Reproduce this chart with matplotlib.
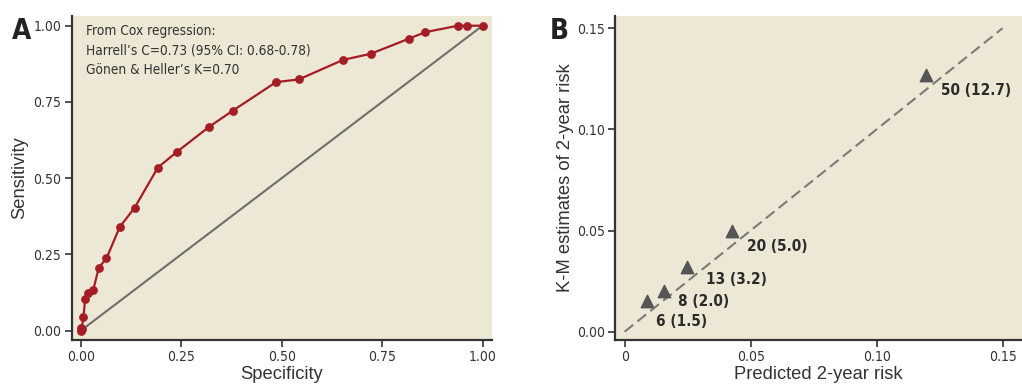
import matplotlib.pyplot as plt
from matplotlib import font_manager
from matplotlib.font_manager import FontProperties

# look for a condensed face (ticks and notes in the reference are condensed)
files = [f.fname for f in font_manager.fontManager.ttflist]
reg = [p for p in files if ("SansCondensed" in p or "SansNarrow" in p) and "Bold" not in p and "Oblique" not in p and "Italic" not in p]
bld = [p for p in files if ("SansCondensed-Bold" in p or "SansNarrow-Bold" in p) and "Oblique" not in p and "Italic" not in p]
if reg and bld:
    fp_reg = FontProperties(fname=sorted(reg)[0])
    fp_bold = FontProperties(fname=sorted(bld)[0])
    scale = 1.0
else:
    fp_reg = FontProperties(family="Liberation Sans")
    fp_bold = FontProperties(family="Liberation Sans", weight="bold")
    scale = 0.88
plt.rcParams["font.family"] = ["Liberation Sans", "DejaVu Sans"]

# --- Panel A: ROC curve ---
specificity = [0.0, 0.0, 0.002, 0.0066, 0.011, 0.017, 0.031, 0.045, 0.064, 0.097,
               0.134, 0.192, 0.240, 0.320, 0.378, 0.486, 0.543, 0.653, 0.722,
               0.816, 0.858, 0.939, 0.961, 1.0]
sensitivity = [0.0, 0.008, 0.004, 0.044, 0.103, 0.122, 0.133, 0.207, 0.237, 0.340,
               0.403, 0.535, 0.587, 0.669, 0.721, 0.815, 0.824, 0.888, 0.908,
               0.957, 0.979, 1.0, 1.0, 1.0]
roc_ticks = [0.0, 0.25, 0.5, 0.75, 1.0]
roc_labels = ["0.00", "0.25", "0.50", "0.75", "1.00"]

# --- Panel B: calibration ---
predicted = [0.0087, 0.0155, 0.0249, 0.0427, 0.1197]
km_est = [0.015, 0.020, 0.032, 0.050, 0.127]
point_labels = ["6 (1.5)", "8 (2.0)", "13 (3.2)", "20 (5.0)", "50 (12.7)"]
label_offsets = [(9, -20), (14, -10), (19, -13), (15, -16), (15, -16)]
cal_ticks = [0.0, 0.05, 0.10, 0.15]
cal_xlabels = ["0", "0.05", "0.10", "0.15"]
cal_ylabels = ["0.00", "0.05", "0.10", "0.15"]

bg = "#ECE8D5"
spine_col = "#333333"
red = "#A51D24"


def fp(base, size):
    p = base.copy()
    p.set_size(size * scale)
    return p


fig = plt.figure(figsize=(10.22, 3.88), dpi=100)
axA = fig.add_axes([0.0702, 0.1237, 0.411, 0.836])
axB = fig.add_axes([0.602, 0.1237, 0.398, 0.836])


def style(ax):
    ax.set_facecolor(bg)
    for s in ["top", "right"]:
        ax.spines[s].set_visible(False)
    for s in ["left", "bottom"]:
        ax.spines[s].set_color(spine_col)
        ax.spines[s].set_linewidth(1.6)
    ax.tick_params(length=5, width=1.2, pad=2.5, color=spine_col, labelcolor="#333333")
    for lab in ax.get_xticklabels() + ax.get_yticklabels():
        lab.set_fontproperties(fp(fp_reg, 10))


axA.plot([0, 1], [0, 1], color="#6E6E6E", lw=1.5, zorder=2)
axA.plot(specificity, sensitivity, color=red, lw=1.6, marker="o", ms=5.3, zorder=3)
axA.set_xlim(-0.0224, 1.023)
axA.set_ylim(-0.0305, 1.033)
axA.set_xticks(roc_ticks)
axA.set_xticklabels(roc_labels)
axA.set_yticks(roc_ticks)
axA.set_yticklabels(roc_labels)
axA.set_xlabel("Specificity", fontsize=13.2, color="#333333", labelpad=1)
axA.set_ylabel("Sensitivity", fontsize=13.2, color="#333333", labelpad=3.5)
style(axA)
axA.text(0.034, 0.974,
         "From Cox regression:\nHarrell\u2019s C=0.73 (95% CI: 0.68-0.78)\nG\u00f6nen & Heller\u2019s K=0.70",
         transform=axA.transAxes, ha="left", va="top",
         fontproperties=fp(fp_reg, 9.8), color="#333333", linespacing=1.5)

axB.plot([0, 0.15], [0, 0.15], color="#7A7A7A", lw=1.5, ls=(0, (5.3, 2.6)), zorder=2)
axB.scatter(predicted, km_est, marker="^", s=80, color="#555555", zorder=3)
for x, y, lab, off in zip(predicted, km_est, point_labels, label_offsets):
    axB.annotate(lab, (x, y), xytext=off, textcoords="offset pixels",
                 ha="left", va="center", fontproperties=fp(fp_bold, 11),
                 color="#2B2B2B")
axB.set_xlim(-0.00373, 0.1577)
axB.set_ylim(-0.0041, 0.1562)
axB.set_xticks(cal_ticks)
axB.set_xticklabels(cal_xlabels)
axB.set_yticks(cal_ticks)
axB.set_yticklabels(cal_ylabels)
axB.set_xlabel("Predicted 2-year risk", fontsize=13.2, color="#333333", labelpad=1)
axB.set_ylabel("K-M estimates of 2-year risk", fontsize=13.2, color="#333333", labelpad=2)
style(axB)

fig.text(0.012, 0.955, "A", fontproperties=fp(fp_bold, 20), color="#222222", va="top")
fig.text(0.538, 0.955, "B", fontproperties=fp(fp_bold, 20), color="#222222", va="top")

fig.savefig("out.png", dpi=100)
